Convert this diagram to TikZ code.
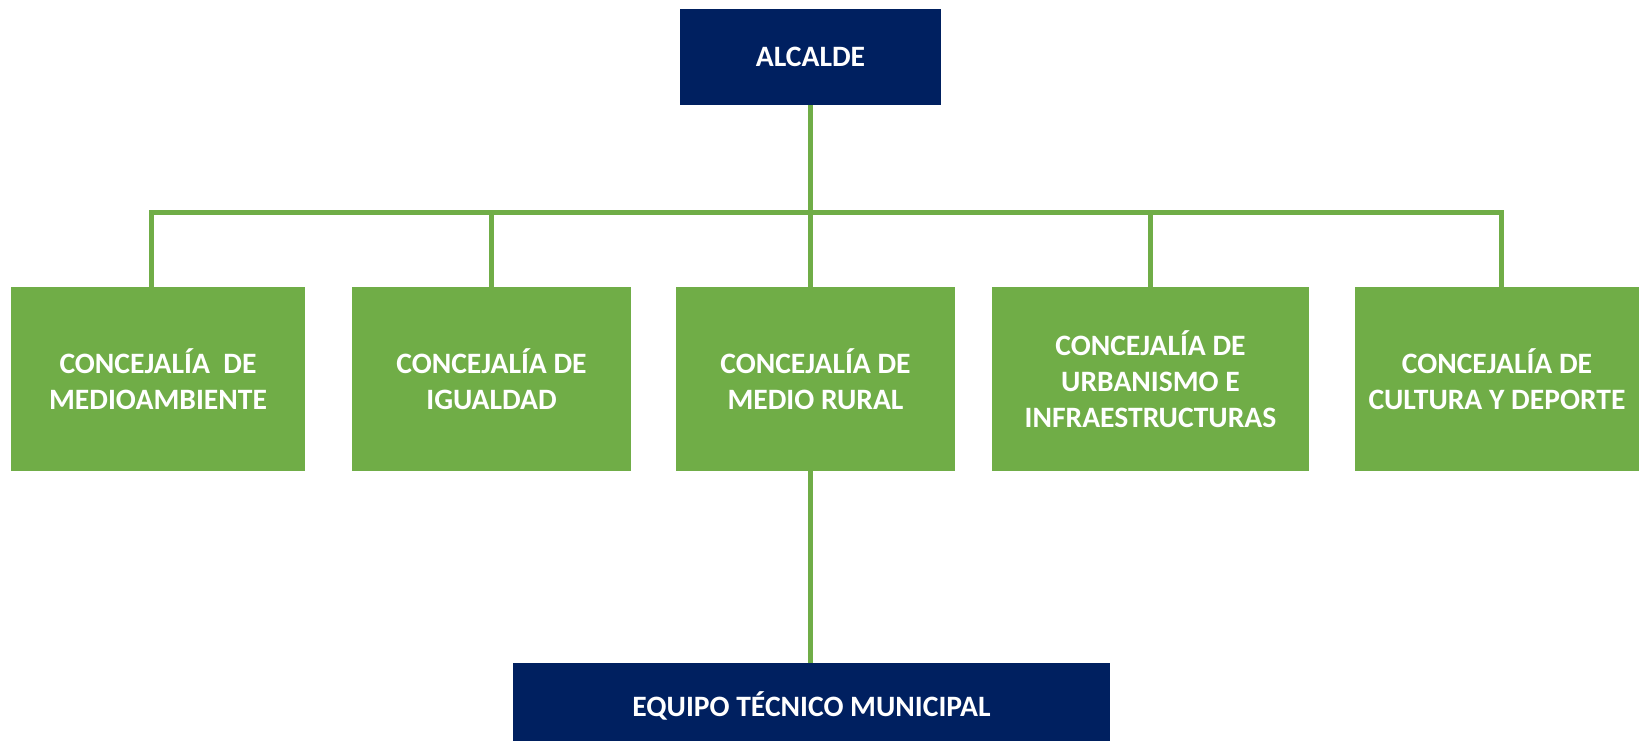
\documentclass[tikz,border=0pt]{standalone}
\usepackage{fontspec}
\setmainfont{Carlito}
\definecolor{navybox}{HTML}{002060}
\definecolor{greenbox}{HTML}{70AD47}
\begin{document}
\begin{tikzpicture}[x=0.75pt,y=-0.75pt,
  every node/.style={inner sep=0pt, outer sep=0pt},
  boxtext/.style={text=white, font=\bfseries\fontsize{22.2pt}{27pt}\selectfont, align=center},
  navynode/.style={boxtext, fill=navybox},
  greennode/.style={boxtext, fill=greenbox, minimum height=184*0.75pt},
  conn/.style={draw=greenbox, line width=3.75pt, line join=miter}]
\useasboundingbox (0,0) rectangle (1639,740);
\fill[white] (0,0) rectangle (1639,740);
\node[navynode, minimum width=261*0.75pt, minimum height=96*0.75pt] (alc) at (810.5,57) {ALCALDE};
\node[greennode, minimum width=294*0.75pt] (m1) at (158,379) {CONCEJALÍA\ \ DE\\MEDIOAMBIENTE};
\node[greennode, minimum width=279*0.75pt] (m2) at (491.5,379) {CONCEJALÍA DE\\IGUALDAD};
\node[greennode, minimum width=279*0.75pt] (m3) at (815.5,379) {CONCEJALÍA DE\\MEDIO RURAL};
\node[greennode, minimum width=317*0.75pt] (m4) at (1150.5,379) {CONCEJALÍA DE\\URBANISMO E\\INFRAESTRUCTURAS};
\node[greennode, minimum width=284*0.75pt] (m5) at (1497,379) {CONCEJALÍA DE\\CULTURA Y DEPORTE};
\node[navynode, minimum width=597*0.75pt, minimum height=86*0.75pt] (eq) at (811.5,706) {EQUIPO TÉCNICO MUNICIPAL};
\coordinate (barL) at (151,212);
\coordinate (barR) at (1501,212);
\draw[conn] (barL |- m1.north) -- (barL) -- (barR) -- (barR |- m5.north);
\draw[conn] (alc.south) -- (alc.south |- m3.north);
\draw[conn] (m2.north |- barL) -- (m2.north);
\draw[conn] (m4.north |- barL) -- (m4.north);
\draw[conn] (alc.south |- m3.south) -- (alc.south |- eq.north);
\end{tikzpicture}
\end{document}
